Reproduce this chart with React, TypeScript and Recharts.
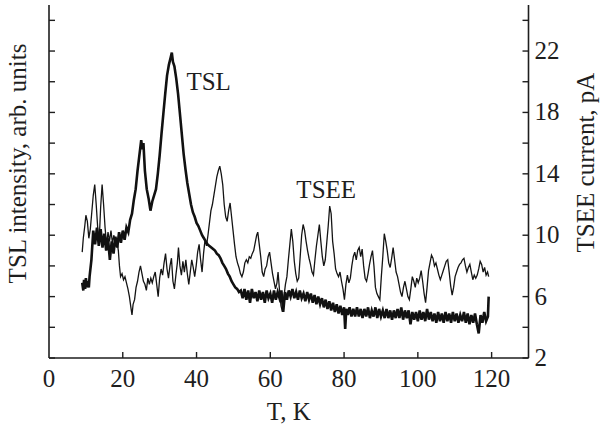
import React from "react";
import { LineChart, Line, XAxis, YAxis, ReferenceDot } from "recharts";

// ---- Data ----
// TSL intensity (plotted on the same scale as the right axis, arb. units)
const tslPoints: [number, number][] = [
  [9.0, 6.9], [9.3, 6.4], [9.5, 7.1], [9.8, 6.5], [10.0, 7.2], [10.3, 6.6], [10.5, 7.0], [10.8, 6.6], [11.0, 7.3], [11.5, 8.4], [12.0, 10.3], [12.5, 9.4],
  [13.0, 10.5], [13.5, 9.3], [14.0, 10.4], [14.5, 9.2], [15.0, 10.1], [15.5, 9.0], [16.0, 9.8], [16.5, 8.4],
  [17.0, 9.6], [17.5, 8.8], [18.0, 9.9], [18.5, 9.2], [19.0, 10.2], [19.5, 9.5], [20.0, 10.3], [20.5, 9.7],
  [21.0, 10.5], [21.5, 10.2], [22.0, 11.0], [22.5, 11.4], [23.0, 12.3], [23.5, 13.0], [24.0, 14.2], [24.5, 15.2],
  [25.0, 16.2], [25.3, 15.6], [25.6, 16.0], [26.0, 14.2], [26.5, 13.0], [27.0, 12.4], [27.5, 11.6], [28.0, 12.2],
  [28.5, 12.6], [29.0, 13.0], [29.5, 14.0], [30.0, 15.2], [30.5, 16.6], [31.0, 17.9], [31.5, 19.2], [32.0, 20.4],
  [32.5, 21.1], [33.0, 21.6], [33.3, 21.9], [33.6, 21.3], [34.0, 21.0], [34.5, 20.2], [35.0, 19.2], [35.5, 17.9],
  [36.0, 16.6], [36.5, 15.3], [37.0, 14.3], [37.5, 13.4], [38.0, 12.7], [38.5, 12.0], [39.0, 11.5], [39.5, 11.2],
  [40.0, 10.8], [40.5, 10.6], [41.0, 10.3], [41.5, 10.0], [42.0, 9.8], [42.5, 9.6], [43.0, 9.4], [43.5, 9.3],
  [44.0, 9.2], [44.5, 9.1], [45.0, 9.0], [45.5, 8.8], [46.0, 8.7], [46.5, 8.5], [47.0, 8.2], [47.5, 8.0],
  [48.0, 7.8], [48.5, 7.5], [49.0, 7.3], [49.5, 7.0], [50.0, 6.8], [50.5, 6.6], [51.0, 6.5], [51.5, 6.3],
  [52.0, 6.4], [52.5, 5.9], [53.0, 6.5], [53.5, 5.8], [54.0, 6.4], [54.5, 5.6], [55.0, 6.5], [55.5, 5.9],
  [56.0, 6.3], [56.5, 5.7], [57.0, 6.4], [57.5, 5.8], [58.0, 6.3], [58.5, 5.6], [59.0, 6.4], [59.5, 5.9],
  [60.0, 6.2], [60.5, 5.6], [61.0, 6.4], [61.5, 5.8], [62.0, 6.3], [62.5, 5.9], [63.0, 6.4], [63.5, 5.0],
  [64.0, 6.3], [64.5, 5.8], [65.0, 6.4], [65.5, 6.0], [66.0, 6.5], [66.5, 5.9], [67.0, 6.3], [67.5, 5.8],
  [68.0, 6.4], [68.5, 5.9], [69.0, 6.2], [69.5, 5.7], [70.0, 6.3], [70.5, 5.8], [71.0, 6.2], [71.5, 5.6],
  [72.0, 6.1], [72.5, 5.5], [73.0, 6.0], [73.5, 5.5], [74.0, 5.9], [74.5, 5.3], [75.0, 5.8], [75.5, 5.2],
  [76.0, 5.7], [76.5, 5.1], [77.0, 5.6], [77.5, 5.0], [78.0, 5.5], [78.5, 4.9], [79.0, 5.4], [79.5, 4.8],
  [80.0, 5.3], [80.3, 3.9], [80.6, 5.2], [81.0, 4.8], [81.5, 5.3], [82.0, 4.7], [82.5, 5.2], [83.0, 4.7],
  [83.5, 5.3], [84.0, 4.7], [84.5, 5.2], [85.0, 4.6], [85.5, 5.2], [86.0, 4.7], [86.5, 5.3], [87.0, 4.6],
  [87.5, 5.1], [88.0, 4.7], [88.5, 5.3], [89.0, 4.6], [89.5, 5.2], [90.0, 4.7], [90.5, 5.1], [91.0, 4.6],
  [91.5, 5.2], [92.0, 4.6], [92.5, 5.1], [93.0, 4.5], [93.5, 5.1], [94.0, 4.6], [94.5, 5.2], [95.0, 4.6],
  [95.5, 5.3], [96.0, 4.5], [96.5, 5.1], [97.0, 4.6], [97.5, 5.1], [98.0, 4.2], [98.5, 5.0], [99.0, 4.5],
  [99.5, 5.0], [100.0, 4.4], [100.5, 5.1], [101.0, 4.5], [101.5, 5.0], [102.0, 4.4], [102.5, 5.2], [103.0, 4.5],
  [103.5, 5.0], [104.0, 4.4], [104.5, 4.9], [105.0, 4.3], [105.5, 5.0], [106.0, 4.4], [106.5, 4.9], [107.0, 4.3],
  [107.5, 5.0], [108.0, 4.4], [108.5, 4.9], [109.0, 4.3], [109.5, 5.0], [110.0, 4.4], [110.5, 4.9], [111.0, 4.3],
  [111.5, 4.8], [112.0, 4.4], [112.5, 5.0], [113.0, 4.3], [113.5, 4.9], [114.0, 4.2], [114.5, 4.8], [115.0, 4.3],
  [115.5, 4.9], [116.0, 4.2], [116.5, 3.6], [117.0, 4.8], [117.5, 4.3], [118.0, 5.0], [118.5, 4.4], [119.0, 4.7],
  [119.2, 6.0],
];

// TSEE current, pA
const tseePoints: [number, number][] = [
  [9.0, 8.9], [9.3, 9.8], [9.7, 10.6], [10.0, 11.3], [10.4, 10.9], [10.8, 9.8], [11.2, 10.4], [11.6, 11.5],
  [12.0, 12.6], [12.4, 13.3], [12.8, 12.0], [13.2, 10.5], [13.6, 9.6], [14.0, 11.8], [14.4, 13.3], [14.8, 12.0],
  [15.2, 10.5], [15.6, 9.4], [16.0, 10.2], [16.4, 9.6], [16.8, 10.3], [17.2, 9.5], [17.6, 10.0], [18.0, 9.3],
  [18.4, 9.7], [18.8, 9.0], [19.1, 8.0], [19.4, 7.3], [19.8, 7.5], [20.2, 7.1], [20.6, 7.3], [21.0, 6.9],
  [21.4, 6.5], [21.8, 6.0], [22.2, 5.3], [22.5, 4.8], [22.8, 5.5], [23.2, 5.8], [23.6, 6.6], [24.0, 7.0],
  [24.4, 7.6], [24.8, 8.0], [25.2, 7.5], [25.6, 7.0], [26.0, 6.8], [26.4, 6.4], [26.8, 7.2], [27.2, 6.8],
  [27.6, 7.2], [28.0, 6.9], [28.4, 7.3], [28.8, 7.6], [29.2, 6.8], [29.6, 6.0], [30.0, 7.2], [30.4, 7.8],
  [30.8, 7.4], [31.2, 8.2], [31.6, 8.8], [32.0, 7.8], [32.4, 7.2], [32.8, 8.0], [33.2, 8.5], [33.6, 7.0],
  [34.0, 6.5], [34.4, 7.4], [34.8, 8.2], [35.1, 9.2], [35.5, 8.0], [35.9, 7.4], [36.3, 8.3], [36.7, 7.6],
  [37.1, 8.4], [37.5, 7.5], [37.9, 6.8], [38.3, 7.6], [38.7, 8.4], [39.1, 7.9], [39.5, 7.3], [39.9, 8.0],
  [40.3, 8.9], [40.7, 9.4], [41.1, 8.4], [41.5, 7.6], [41.9, 8.8], [42.3, 9.7], [42.7, 9.3], [43.1, 10.0],
  [43.5, 10.8], [43.9, 11.6], [44.3, 12.0], [44.7, 12.6], [45.1, 13.2], [45.5, 13.8], [45.9, 14.2], [46.3, 14.5],
  [46.7, 14.0], [47.1, 13.3], [47.5, 12.0], [47.9, 11.2], [48.3, 10.9], [48.7, 11.6], [49.1, 12.1], [49.5, 11.2],
  [49.9, 10.3], [50.3, 9.4], [50.7, 8.6], [51.1, 8.2], [51.5, 7.9], [51.9, 7.5], [52.3, 7.3], [52.7, 7.6],
  [53.1, 8.2], [53.5, 8.4], [53.9, 8.2], [54.3, 8.6], [54.7, 8.5], [55.1, 8.8], [55.5, 9.0], [55.9, 9.5],
  [56.3, 10.0], [56.6, 10.2], [57.0, 9.4], [57.4, 8.6], [57.8, 7.6], [58.2, 7.3], [58.6, 7.8], [59.0, 8.0],
  [59.4, 8.6], [59.8, 8.9], [60.2, 8.2], [60.6, 7.5], [61.0, 7.0], [61.4, 6.5], [61.8, 6.9], [62.1, 7.6],
  [62.5, 6.4], [62.9, 5.4], [63.3, 5.0], [63.7, 6.0], [64.1, 6.8], [64.5, 7.3], [64.9, 8.4], [65.3, 9.4],
  [65.7, 10.4], [66.1, 9.6], [66.5, 8.3], [66.9, 7.5], [67.3, 7.0], [67.7, 7.2], [68.1, 8.6], [68.5, 10.0],
  [68.9, 10.7], [69.3, 10.3], [69.7, 9.6], [70.1, 9.0], [70.5, 8.5], [70.9, 8.1], [71.3, 7.6], [71.7, 7.4],
  [72.1, 8.4], [72.5, 9.3], [72.9, 10.0], [73.3, 10.7], [73.7, 9.6], [74.1, 8.6], [74.5, 8.0], [74.9, 8.4],
  [75.3, 9.5], [75.7, 10.6], [76.1, 11.9], [76.5, 11.4], [76.9, 9.6], [77.3, 8.8], [77.7, 7.8], [78.1, 7.5],
  [78.5, 7.3], [78.9, 7.6], [79.3, 7.0], [79.7, 6.5], [80.1, 5.8], [80.5, 6.8], [80.9, 7.4], [81.3, 6.9],
  [81.7, 7.2], [82.1, 8.0], [82.5, 8.6], [82.9, 8.9], [83.3, 8.4], [83.7, 9.0], [84.1, 9.2], [84.5, 8.6],
  [84.9, 9.1], [85.3, 8.0], [85.7, 7.2], [86.1, 7.0], [86.5, 7.5], [86.9, 8.1], [87.3, 8.6], [87.7, 9.0],
  [88.1, 8.0], [88.5, 6.6], [88.9, 6.2], [89.3, 6.0], [89.7, 5.8], [90.1, 7.3], [90.5, 8.6], [90.9, 10.1],
  [91.3, 9.6], [91.7, 9.0], [92.1, 8.2], [92.5, 7.9], [92.9, 8.5], [93.3, 9.2], [93.7, 8.4], [94.1, 7.6],
  [94.5, 7.3], [94.9, 6.8], [95.3, 6.3], [95.7, 6.0], [96.1, 6.6], [96.5, 7.0], [96.9, 6.5], [97.3, 6.0],
  [97.7, 5.8], [98.1, 6.5], [98.5, 7.3], [98.9, 7.0], [99.3, 6.6], [99.7, 7.2], [100.1, 6.9], [100.5, 7.2],
  [100.9, 7.7], [101.3, 7.0], [101.7, 6.2], [102.1, 5.6], [102.5, 6.6], [102.9, 7.7], [103.3, 8.2], [103.7, 8.7],
  [104.1, 8.5], [104.5, 8.0], [104.9, 8.2], [105.3, 7.8], [105.7, 7.4], [106.1, 7.1], [106.5, 7.4], [106.9, 7.7],
  [107.3, 8.0], [107.7, 8.3], [108.1, 8.4], [108.5, 7.6], [108.9, 6.7], [109.3, 6.1], [109.7, 6.6], [110.1, 7.3],
  [110.5, 7.6], [110.9, 7.9], [111.3, 8.1], [111.7, 8.2], [112.1, 8.4], [112.5, 8.5], [112.9, 8.0], [113.3, 7.6],
  [113.7, 7.9], [114.1, 8.1], [114.5, 7.6], [114.9, 7.1], [115.3, 7.4], [115.7, 7.2], [116.1, 7.4], [116.5, 7.8],
  [116.9, 8.3], [117.3, 8.1], [117.7, 7.6], [118.1, 7.9], [118.5, 7.4], [118.9, 7.6], [119.2, 7.3],
];

const xTicks = [0, 20, 40, 60, 80, 100, 120];
const yTicks = [2, 4, 6, 8, 10, 12, 14, 16, 18, 20, 22, 24];
const yTickLabels = [2, 6, 10, 14, 18, 22];
const xDomain: [number, number] = [0, 130];
const yDomain: [number, number] = [2, 25];

const tslData = tslPoints.map(([T, v]) => ({ T, v }));
const tseeData = tseePoints.map(([T, v]) => ({ T, v }));

const FONT = "'Liberation Serif', 'Times New Roman', serif";
const FS = 25;
const INK = "#1e1e1e";

const XTick = (props: any) => {
  const { x, y, payload } = props;
  return (
    <g>
      {payload.value !== 0 && (
        <line x1={x} y1={y} x2={x} y2={y - 6} stroke={INK} strokeWidth={1.4} />
      )}
      <text x={x} y={y + 29} textAnchor="middle" fontFamily={FONT} fontSize={FS} fill={INK}>
        {payload.value}
      </text>
    </g>
  );
};

const RightTick = (props: any) => {
  const { x, y, payload } = props;
  return (
    <g>
      <line x1={x} y1={y} x2={x - 6} y2={y} stroke={INK} strokeWidth={1.4} />
      {yTickLabels.includes(payload.value) && (
        <text x={x + 6} y={y + 8} textAnchor="start" fontFamily={FONT} fontSize={FS} fill={INK}>
          {payload.value}
        </text>
      )}
    </g>
  );
};

const LeftTick = (props: any) => {
  const { x, y } = props;
  return <line x1={x} y1={y} x2={x + 6} y2={y} stroke={INK} strokeWidth={1.4} />;
};

const XTitle = (props: any) => {
  const vb = props.viewBox || {};
  return (
    <text x={vb.x + vb.width / 2} y={vb.y + 62} textAnchor="middle" fontFamily={FONT} fontSize={FS} fill={INK}>
      T, K
    </text>
  );
};

const LeftTitle = (props: any) => {
  const vb = props.viewBox || {};
  const cx = 17;
  const cy = vb.y + vb.height / 2 - 18;
  return (
    <text x={cx} y={cy} dy="0.35em" textAnchor="middle" transform={`rotate(-90, ${cx}, ${cy})`} fontFamily={FONT} fontSize={FS} fill={INK}>
      TSL intensity, arb. units
    </text>
  );
};

const RightTitle = (props: any) => {
  const vb = props.viewBox || {};
  const cx = vb.x + 57;
  const cy = vb.y + vb.height / 2 - 19;
  return (
    <text x={cx} y={cy} dy="0.35em" textAnchor="middle" transform={`rotate(-90, ${cx}, ${cy})`} fontFamily={FONT} fontSize={FS} fill={INK}>
      TSEE current, pA
    </text>
  );
};

const makeTag = (txt: string) => (props: any) => {
  const vb = props.viewBox || {};
  return (
    <text x={vb.x} y={vb.y} textAnchor="start" fontFamily={FONT} fontSize={FS} fill={INK}>
      {txt}
    </text>
  );
};

export default function App() {
  return (
    <div style={{ position: "absolute", left: 0, top: 0, width: 605, height: 430, background: "#fff" }}>
      <LineChart width={605} height={430} data={tslData} margin={{ top: 5, right: 0, bottom: 0, left: 0 }}>
        <XAxis
          xAxisId="b"
          dataKey="T"
          type="number"
          domain={xDomain}
          ticks={xTicks}
          interval={0}
          height={72}
          tickSize={0}
          tickMargin={0}
          tickLine={false}
          tick={<XTick />}
          axisLine={{ stroke: INK, strokeWidth: 1.6 }}
          label={<XTitle />}
          allowDataOverflow
        />
        <XAxis
          xAxisId="t"
          orientation="top"
          dataKey="T"
          type="number"
          domain={xDomain}
          height={0}
          tick={false}
          tickLine={false}
          axisLine={{ stroke: INK, strokeWidth: 1.6 }}
        />
        <YAxis
          yAxisId="l"
          orientation="left"
          type="number"
          domain={yDomain}
          ticks={yTicks}
          interval={0}
          width={49}
          tickSize={0}
          tickMargin={0}
          tickLine={false}
          tick={<LeftTick />}
          axisLine={{ stroke: INK, strokeWidth: 1.6 }}
          label={<LeftTitle />}
          allowDataOverflow
        />
        <YAxis
          yAxisId="r"
          orientation="right"
          type="number"
          domain={yDomain}
          ticks={yTicks}
          interval={0}
          width={76.5}
          tickSize={0}
          tickMargin={0}
          tickLine={false}
          tick={<RightTick />}
          axisLine={{ stroke: INK, strokeWidth: 1.6 }}
          label={<RightTitle />}
          allowDataOverflow
        />
        <Line
          xAxisId="b"
          yAxisId="r"
          data={tseeData}
          dataKey="v"
          type="linear"
          stroke="#141414"
          strokeWidth={1.3}
          dot={false}
          activeDot={false}
          isAnimationActive={false}
        />
        <Line
          xAxisId="b"
          yAxisId="l"
          data={tslData}
          dataKey="v"
          type="linear"
          stroke="#111111"
          strokeWidth={2.6}
          dot={false}
          activeDot={false}
          isAnimationActive={false}
        />
        <ReferenceDot xAxisId="b" yAxisId="r" x={37.4} y={19.46} r={0.5} fill="none" stroke="none" label={makeTag("TSL")} />
        <ReferenceDot xAxisId="b" yAxisId="r" x={67.2} y={12.42} r={0.5} fill="none" stroke="none" label={makeTag("TSEE")} />
      </LineChart>
    </div>
  );
}
